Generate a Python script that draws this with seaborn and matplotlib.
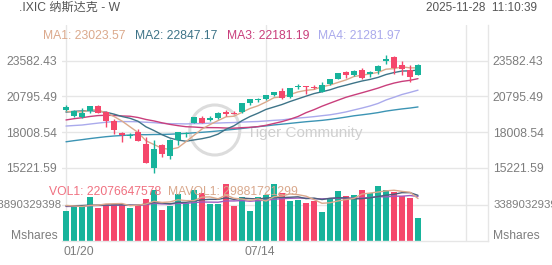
import numpy as np
import pandas as pd
import matplotlib
matplotlib.use("Agg")
import matplotlib.pyplot as plt
from matplotlib.patches import Ellipse
import seaborn as sns

# ---------------- data ----------------
weeks_idx = list(range(45))  # weekly candles, week of 01/20 ... week of 11/24
date_labels = ["01/20", "07/14"]

opens = [19756,19234,19215,19653,20050,19600,18900,17960,17720,17980,17100,15230,16990,16130,17400,
         17860,18720,19100,18960,19100,19560,19520,19560,20300,20510,20570,20940,21210,20780,21490,
         21590,21470,21170,21770,22170,22690,22470,22830,22540,22780,23550,23900,23220,22850,22500]
highs = [20090,19733,19862,20045,20110,19680,19000,17990,17945,18280,17600,17370,17060,17440,17990,
         18010,19210,19300,19240,19580,19720,19630,20290,20630,20660,20910,21130,21460,21470,21800,
         21630,21720,21880,22180,22650,22800,22870,23040,22800,23250,24020,23960,23560,23250,23300]
lows = [19650,19204,19141,19480,19510,18372,17897,17238,17566,17300,15575,14784,16060,15920,16990,
        17630,18700,18710,18880,19010,19300,19420,19500,20130,20370,20480,20830,20620,20700,21370,
        20950,21340,21100,21710,22130,22240,22370,22170,22310,22560,23290,22580,22500,21900,22430]
closes = [19954.30,19627.44,19523.40,20026.77,19524.01,18847.28,18196.22,17754.09,17784.05,17322.99,
          15587.79,16724.46,16286.45,17382.94,17977.73,17928.92,19211.10,18737.21,19113.77,19529.95,
          19406.83,19447.41,20273.46,20601.10,20585.53,20895.66,21108.32,20650.13,21450.02,21622.98,
          21496.54,21455.55,21700.39,22141.10,22631.48,22484.07,22780.51,22204.43,22679.97,23204.87,
          23724.96,23004.54,22900.59,22273.08,23214.69]

ma1 = [19618,19599,19579,19752,19731,19510,19224,18870,18421,17981,17329,17035,16741,16661,16792,
       17260,17757,18248,18594,18904,19200,19247,19554,19852,20063,20361,20693,20768,20938,21145,
       21266,21335,21545,21683,21885,22083,22348,22448,22556,22671,22919,22964,23103,23022,23024]
ma2 = [19567,19629,19660,19677,19636,19564,19411,19225,19087,18856,18419,18129,17805,17541,17386,
       17295,17396,17494,17627,17848,18230,18502,18901,19223,19484,19780,19970,20161,20395,20604,
       20813,21014,21157,21311,21515,21674,21841,21997,22120,22278,22501,22656,22776,22789,22847]
ma3 = [18956,19053,19132,19227,19297,19322,19307,19269,19246,19148,18993,18879,18733,18609,18511,
       18429,18404,18359,18357,18352,18325,18316,18353,18382,18435,18537,18683,18828,19011,19226,
       19522,19758,20029,20267,20499,20727,20906,21079,21257,21441,21657,21835,21966,22050,22181]
ma4 = [18480,18522,18560,18636,18709,18778,18826,18830,18827,18814,18777,18745,18690,18665,18660,
       18646,18670,18677,18706,18715,18739,18754,18789,18813,18835,18880,18926,18960,19036,19103,
       19154,19215,19288,19358,19462,19583,19736,19884,20047,20243,20515,20724,20944,21107,21282]
ma5 = [17252,17339,17418,17502,17577,17649,17703,17743,17782,17810,17804,17819,17824,17843,17874,
       17907,17953,17992,18040,18096,18165,18224,18292,18363,18428,18494,18567,18626,18689,18754,
       18817,18869,18924,18997,19085,19180,19281,19357,19437,19529,19646,19735,19817,19886,19971]

volumes = [28.2,33.9,33.9,41.1,31.3,34.5,34.8,34.8,30.8,33.9,39.5,48.0,29.2,33.2,44.2,
           35.5,48.0,45.5,34.5,34.8,53.4,32.9,41.7,28.2,41.7,43.3,53.7,44.9,37.7,38.6,
           36.1,37.7,27.6,40.2,47.1,42.4,43.3,48.0,44.9,51.8,48.0,46.4,42.6,40.8,22.1]  # billions
mavol1 = [33.5,33.0,32.5,33.5,33.7,34.9,35.1,35.3,33.2,33.8,34.8,37.4,36.3,36.8,38.8,
          38.0,38.0,41.3,41.5,39.7,43.2,40.2,39.5,38.2,39.6,37.6,41.7,42.4,44.3,43.6,
          42.2,39.0,35.5,36.0,37.7,39.0,40.1,44.2,45.1,46.1,47.2,47.8,46.7,45.9,40.0]
mavol2 = [33.0,33.2,33.4,33.8,33.7,33.8,34.0,34.1,33.7,33.7,34.8,36.3,35.8,35.0,36.3,
          36.4,37.7,38.8,39.2,39.2,40.6,39.1,40.4,39.9,39.6,40.4,41.0,40.9,41.2,41.6,
          39.9,40.4,39.0,40.2,40.7,40.6,39.6,39.9,40.6,41.9,43.1,44.0,45.5,45.5,43.0]
mavol3 = [32.5,32.6,32.8,33.2,33.4,33.5,33.7,33.8,33.7,33.7,34.2,35.4,34.9,34.8,35.4,
          35.4,36.2,36.7,36.6,36.5,37.7,37.7,38.1,37.4,38.0,38.4,39.3,39.8,40.2,40.4,
          40.3,39.7,39.7,40.0,40.2,40.5,40.3,40.4,40.9,41.8,41.5,42.2,42.2,42.8,41.9]

price_ticks = [23582.43, 20795.49, 18008.54, 15221.59]
vol_tick = 33.890329398
vol_tick_label = "33890329398"
title_left = ".IXIC 纳斯达克 - W"
title_right = "2025-11-28  11:10:39"
ma_names = ["MA1: 23023.57", "MA2: 22847.17", "MA3: 22181.19", "MA4: 21281.97"]
vol_legend = ["VOL1: 22076647578", "MAVOL1: 29881721299"]

# ---------------- style ----------------
UP = "#17b39b"
DOWN = "#f5476b"
MA_COLORS = ["#dba98c", "#3e7488", "#c93f7c", "#aaaaec", "#3c94b4"]
VMA_COLORS = ["#dba98c", "#4c5f7c", "#a05cc0"]
GRID = "#e6e6e6"
LABEL = "#7d7d7d"

sns.set_theme(style="white")
plt.rcParams["font.family"] = ["Liberation Sans", "Noto Sans CJK SC", "DejaVu Sans"]

W, H = 552, 265
fig = plt.figure(figsize=(W / 100, H / 100), dpi=100, facecolor="white")

def fx(px):
    return px / W

def fy(py):
    return 1 - py / H

ax = fig.add_axes([fx(62), fy(182), fx(426), 157 / H])
axv = fig.add_axes([fx(62), fy(241), fx(426), 59 / H])

df = pd.DataFrame({"i": weeks_idx, "o": opens, "h": highs, "l": lows, "c": closes, "v": volumes})
df["dir"] = np.where(df["c"] >= df["o"], "up", "down")
cols = [UP if d == "up" else DOWN for d in df["dir"]]

# price panel
for t in price_ticks:
    ax.axhline(t, color=GRID, lw=1, zorder=0)
for xv in [0, 25, 50]:
    ax.axvline(xv, color=GRID, lw=1, zorder=0)
    axv.axvline(xv, color=GRID, lw=1, zorder=0)

# watermark
ax.add_patch(Ellipse((18.6, 18172), 50 / 8, 50 * 78.07, fill=False, ec="#dcdcdc", lw=2.2, zorder=0.5))
ax.text(22.6, 17938, "Tiger Community", fontsize=11, color="#cfcfcf", ha="left", va="center", zorder=0.5)

for m, c in zip([ma5, ma4, ma3, ma2, ma1], [MA_COLORS[4], MA_COLORS[3], MA_COLORS[2], MA_COLORS[1], MA_COLORS[0]]):
    sns.lineplot(x=weeks_idx, y=m, ax=ax, color=c, linewidth=1.0, zorder=2)

ax.vlines(df["i"], df["l"], df["h"], colors=cols, lw=1.0, zorder=3)
body_bottom = np.minimum(df["o"], df["c"])
body_h = np.maximum(np.abs(df["c"] - df["o"]), 70)
ax.bar(df["i"], body_h, bottom=body_bottom, width=0.72, color=cols, zorder=4, linewidth=0)

ax.set_xlim(-0.5, 52.75)
ax.set_ylim(14112, 26369)
ax.set_yticks(price_ticks)
ax.set_yticklabels([f"{t:.2f}" for t in price_ticks])
ax.tick_params(axis="y", left=False, right=False, labelleft=True, labelright=True, length=0,
               labelsize=8.7, labelcolor=LABEL, pad=3.5)
ax.set_xticks([])
ax.set_xlabel("")
ax.set_ylabel("")
for s in ["top", "left", "bottom"]:
    ax.spines[s].set_visible(False)
ax.spines["right"].set_color(GRID)
ax.spines["right"].set_linewidth(1)

# volume panel
axv.axhline(vol_tick, color=GRID, lw=1, zorder=0)
sns.barplot(data=df, x="i", y="v", hue="dir", palette={"up": UP, "down": DOWN},
            native_scale=True, dodge=False, width=0.75, errorbar=None, legend=False,
            saturation=1, ax=axv, zorder=2, linewidth=0)
for m, c in zip([mavol3, mavol2, mavol1], [VMA_COLORS[2], VMA_COLORS[1], VMA_COLORS[0]]):
    sns.lineplot(x=weeks_idx, y=m, ax=axv, color=c, linewidth=1.0, zorder=3)
axv.set_xlim(-0.5, 52.75)
axv.set_ylim(0, 55.54)
axv.set_yticks([])
axv.set_xticks([])
axv.set_xlabel("")
axv.set_ylabel("")
for s in ["top", "left"]:
    axv.spines[s].set_visible(False)
for s in ["right", "bottom"]:
    axv.spines[s].set_color(GRID)
    axv.spines[s].set_linewidth(1)

# volume axis labels (clipped by the figure edges, as in the original)
axv.text(0.0, vol_tick, vol_tick_label, transform=axv.get_yaxis_transform(), ha="right", va="center",
         fontsize=8.2, color=LABEL)
axv.text(1.012, vol_tick, vol_tick_label, transform=axv.get_yaxis_transform(), ha="left", va="center",
         fontsize=8.2, color=LABEL)

# date labels
axv.text(-0.25, -0.18, date_labels[0], transform=axv.get_xaxis_transform(), ha="left", va="center",
         fontsize=8.7, color=LABEL)
axv.text(24.2, -0.18, date_labels[1], transform=axv.get_xaxis_transform(), ha="center", va="center",
         fontsize=8.7, color=LABEL)

# texts
fig.text(fx(19), fy(8), title_left, fontsize=8.7, color="#555555", ha="left", va="center")
fig.text(fx(537), fy(8), title_right, fontsize=8.5, color="#555555", ha="right", va="center")
for name, xp, c in zip(ma_names, [43, 135, 227, 318], MA_COLORS[:4]):
    fig.text(fx(xp), fy(36), name, fontsize=8.7, color=c, ha="left", va="center")
fig.text(fx(49), fy(192), vol_legend[0], fontsize=8.7, color="#f07080", ha="left", va="center", zorder=10)
fig.text(fx(168), fy(192), vol_legend[1], fontsize=8.7, color="#d9a88c", ha="left", va="center", zorder=10)
fig.text(fx(58), fy(236), "Mshares", fontsize=8.7, color=LABEL, ha="right", va="center")
fig.text(fx(493), fy(236), "Mshares", fontsize=8.7, color=LABEL, ha="left", va="center")

fig.savefig("out.png", dpi=100, facecolor="white")
